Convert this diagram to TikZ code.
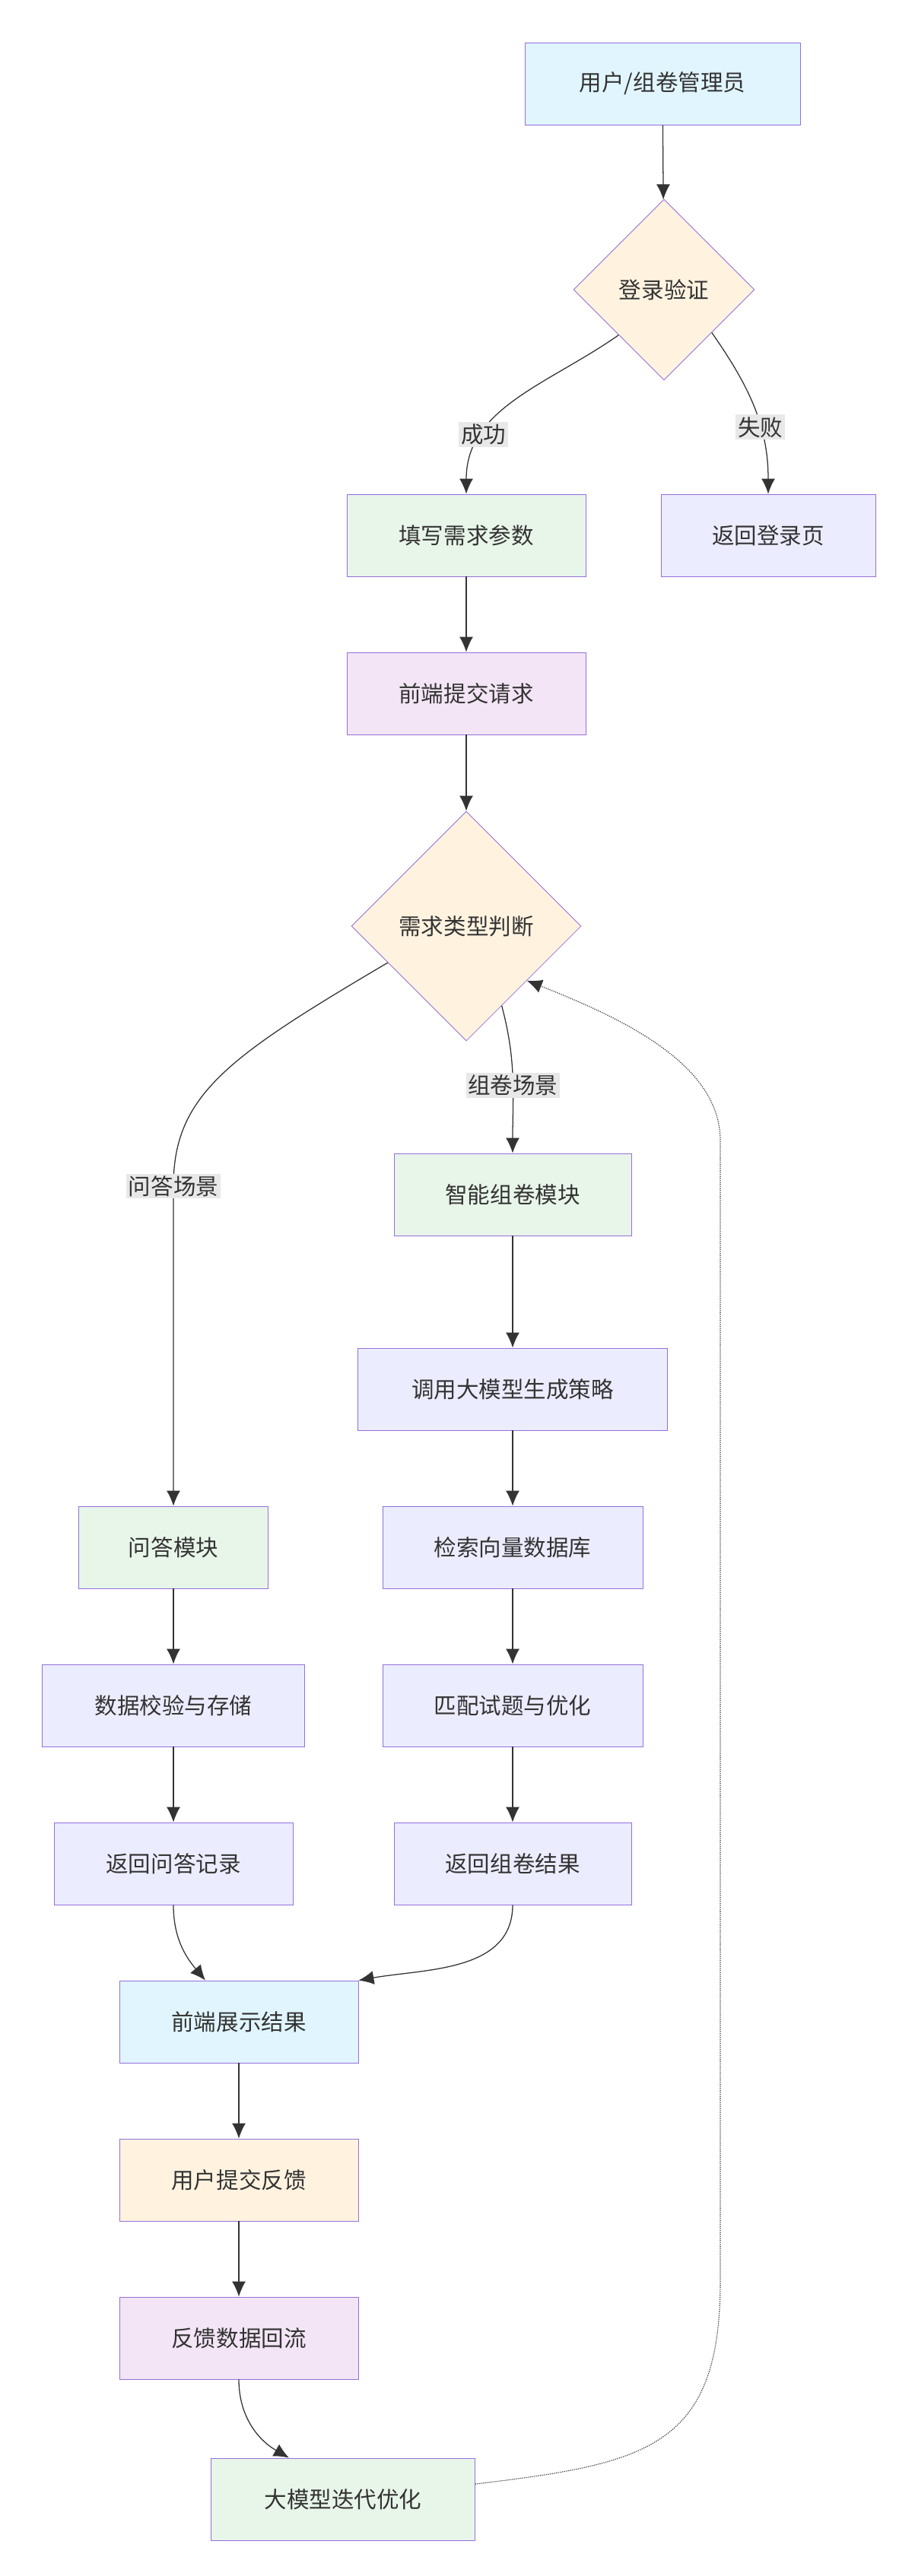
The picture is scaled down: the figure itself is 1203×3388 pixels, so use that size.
\documentclass[tikz,border=0pt]{standalone}
\usepackage{fontspec}
\setmainfont{Noto Sans CJK SC}
\usetikzlibrary{shapes.geometric,arrows.meta}
\definecolor{bd}{HTML}{9370DB}
\definecolor{cblue}{HTML}{E1F5FE}
\definecolor{cgreen}{HTML}{E8F5E9}
\definecolor{corange}{HTML}{FFF3E0}
\definecolor{clav}{HTML}{ECECFF}
\definecolor{cpink}{HTML}{F3E5F5}
\definecolor{ln}{HTML}{333333}
\tikzset{
  box/.style={draw=bd,line width=0.6pt,minimum height=27mm,inner sep=0pt,font=\fontsize{21}{25}\selectfont,text=ln},
  dia/.style={diamond,aspect=1,draw=bd,line width=0.6pt,inner sep=0pt,font=\fontsize{21}{25}\selectfont,text=ln},
  lab/.style={fill=black!9,inner sep=2pt,font=\fontsize{21}{25}\selectfont,text=ln},
  ar/.style={draw=ln,line width=0.9pt,-{Latex[length=5mm,width=4.5mm]}},
}
\begin{document}
\begin{tikzpicture}[x=0.25mm,y=-0.25mm]
\useasboundingbox (0,0) rectangle (1203,3388);
\node[box,fill=cblue,minimum width=90.5mm] (user) at (871,110) {用户/组卷管理员};
\node[dia,fill=corange,minimum size=59.5mm] (login) at (873,381) {登录验证};
\node[box,fill=cgreen,minimum width=78.5mm] (fill) at (613,704) {填写需求参数};
\node[box,fill=clav,minimum width=70.5mm] (back) at (1010,704) {返回登录页};
\node[box,fill=cpink,minimum width=78.5mm] (submit) at (613,912) {前端提交请求};
\node[dia,fill=corange,minimum size=75.5mm] (type) at (613,1218) {需求类型判断};
\node[box,fill=cgreen,minimum width=78mm] (smart) at (674,1571) {智能组卷模块};
\node[box,fill=clav,minimum width=101.75mm] (call) at (674,1827) {调用大模型生成策略};
\node[box,fill=clav,minimum width=85.5mm] (search) at (674,2035) {检索向量数据库};
\node[box,fill=clav,minimum width=85.5mm] (match) at (674,2243) {匹配试题与优化};
\node[box,fill=clav,minimum width=78mm] (res) at (674,2451) {返回组卷结果};
\node[box,fill=cgreen,minimum width=62.25mm] (qa) at (228,2035) {问答模块};
\node[box,fill=clav,minimum width=86.25mm] (check) at (228,2243) {数据校验与存储};
\node[box,fill=clav,minimum width=78.5mm] (qarec) at (228,2451) {返回问答记录};
\node[box,fill=cblue,minimum width=78.5mm] (show) at (314,2659) {前端展示结果};
\node[box,fill=corange,minimum width=78.5mm] (fb) at (314,2867) {用户提交反馈};
\node[box,fill=cpink,minimum width=78.5mm] (flow) at (314,3075) {反馈数据回流};
\node[box,fill=cgreen,minimum width=86.75mm] (llm) at (451,3287) {大模型迭代优化};

\draw[ar] (user) -- (login);
\draw[ar] (login.225) to[out=-145,in=90] node[lab,pos=0.72] {成功} (fill);
\draw[ar] (login.-42) to[out=-55,in=90] node[lab,pos=0.62] {失败} (back);
\draw[ar] (fill) -- (submit);
\draw[ar] (submit) -- (type);
\draw[ar] (type.-66) to[out=-75,in=90] node[lab,pos=0.55] {组卷场景} (smart);
\draw[ar] (type.205) .. controls (300,1390) and (228,1440) .. (228,1560) node[lab,pos=1] {问答场景} -- (qa);
\draw[ar] (smart) -- (call);
\draw[ar] (call) -- (search);
\draw[ar] (search) -- (match);
\draw[ar] (match) -- (res);
\draw[ar] (qa) -- (check);
\draw[ar] (check) -- (qarec);
\draw[ar] (qarec) to[out=-90,in=130] (show.north west -| 270,2605);
\draw[ar] (res) to[out=-90,in=10] (show.north east);
\draw[ar] (show) -- (fb);
\draw[ar] (fb) -- (flow);
\draw[ar] (flow) to[out=-90,in=150] (llm.north west -| 380,3233);
\coordinate (c1) at (947,3000);
\coordinate (c2) at (947,1500);
\draw[ar,densely dotted,line width=0.8pt] (llm.east) ++(0,-20) .. controls (850,3240) and (947,3220) .. (c1) -- (c2) .. controls (947,1400) and (820,1340) .. (type.-42);
\end{tikzpicture}
\end{document}
